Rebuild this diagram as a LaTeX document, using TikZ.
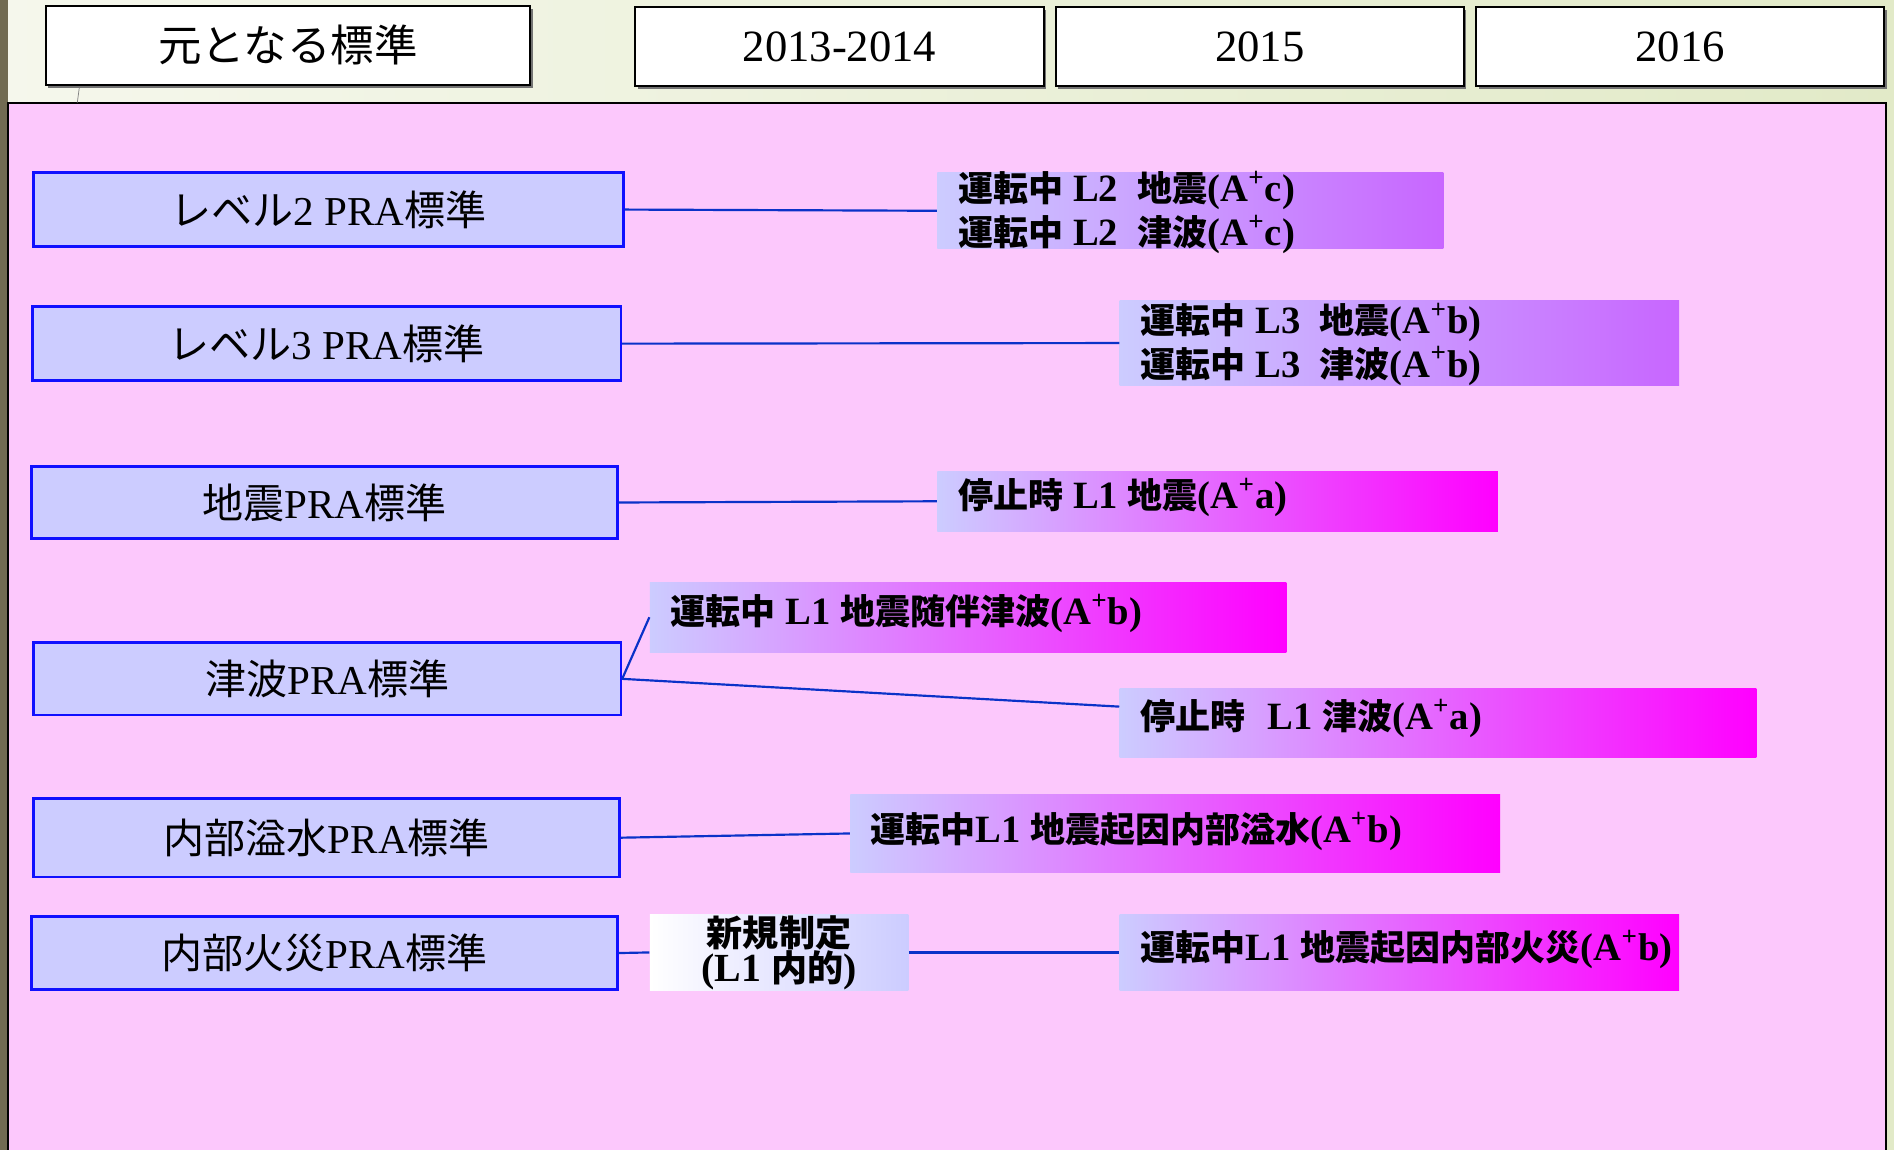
\documentclass[tikz,border=0pt]{standalone}
\usepackage{fontspec}
\setmainfont{Liberation Serif}
\newfontfamily\jpA{Noto Sans CJK JP}
\newfontfamily\jpB{Noto Sans CJK JP}[Scale=0.906]
\let\jpfam\jpA
\newcommand\J[1]{{\jpfam #1}}
\newcommand\Ap{A\textsuperscript{+}}
\usetikzlibrary{fit}
\definecolor{pinkbg}{RGB}{252,200,252}
\definecolor{lav}{RGB}{204,204,255}
\definecolor{purp}{RGB}{200,102,255}
\definecolor{mag}{RGB}{255,0,255}
\definecolor{bord}{RGB}{16,16,255}
\definecolor{conn}{RGB}{10,50,200}
\definecolor{strip}{RGB}{113,107,82}
\definecolor{bgL}{RGB}{245,247,236}
\definecolor{bgR}{RGB}{226,234,200}
\begin{document}
\begin{tikzpicture}[x=0.5pt,y=-0.5pt,
  std/.style={fill=lav,draw=bord,line width=1.1pt,inner sep=0pt},
  stdtxt/.style={inner sep=0pt,font=\fontsize{17}{18}\selectfont},
  hdr/.style={fill=white,draw=black,line width=0.8pt,inner sep=0pt},
  yeartxt/.style={inner sep=0pt,font=\fontsize{18.5}{20}\selectfont},
  purbox/.style={inner sep=0pt,left color=lav,right color=purp},
  magbox/.style={inner sep=0pt,left color=lav,right color=mag},
  newbox/.style={inner sep=0pt,left color=white,right color=lav},
  lbl/.style={anchor=west,align=left,inner sep=0pt,font=\let\jpfam\jpB\bfseries\fontsize{16}{18}\selectfont},
  link/.style={draw=conn,line width=0.9pt}
]
\useasboundingbox[left color=bgL,right color=bgR] (0,0) rectangle (1568,952);
\fill[strip] (0,0) rectangle (7,952);
\draw[fill=pinkbg,line width=0.8pt] (7,85) rectangle (1561,960);
\draw[gray,line width=0.3pt] (66,70) -- (64,85);
% header
\foreach \a/\b/\c/\d in {38/5/439/70,526/6/864/71,874/6/1212/71,1222/6/1560/71}
  \fill[black!55] (\a+2,\b+2.5) rectangle (\c+2,\d+2.5);
\node[hdr,fit={(38,5) (439,70)}] (h0) {};
\node[hdr,fit={(526,6) (864,71)}] (h1) {};
\node[hdr,fit={(874,6) (1212,71)}] (h2) {};
\node[hdr,fit={(1222,6) (1560,71)}] (h3) {};
\node[inner sep=0pt,font=\jpA\fontsize{18}{20}\selectfont] (h0t) at (h0.center) {元となる標準};
\node[yeartxt] (h1t) at (h1.center) {2013-2014};
\node[yeartxt] (h2t) at (h2.center) {2015};
\node[yeartxt] (h3t) at (h3.center) {2016};
% standards
\node[std,fit={(28,143) (516,204)}] (s1) {};
\node[std,fit={(27,254) (514,315)}] (s2) {};
\node[std,fit={(26,386) (511,446)}] (s3) {};
\node[std,fit={(28,532) (514,592)}] (s4) {};
\node[std,fit={(28,661) (513,726)}] (s5) {};
\node[std,fit={(26,759) (511,819)}] (s6) {};
\node[stdtxt] (s1t) at (s1.center) {\J{レベル}2 PRA\J{標準}};
\node[stdtxt] (s2t) at (s2.center) {\J{レベル}3 PRA\J{標準}};
\node[stdtxt] (s3t) at (s3.center) {\J{地震}PRA\J{標準}};
\node[stdtxt] (s4t) at (s4.center) {\J{津波}PRA\J{標準}};
\node[stdtxt] (s5t) at (s5.center) {\J{内部溢水}PRA\J{標準}};
\node[stdtxt] (s6t) at (s6.center) {\J{内部火災}PRA\J{標準}};
% results
\node[purbox,fit={(776,143) (1195,206)}] (r1) {};
\node[purbox,fit={(927,249) (1390,319)}] (r2) {};
\node[magbox,fit={(776,390) (1240,440)}] (r3) {};
\node[magbox,fit={(538,482) (1065,540)}] (r4) {};
\node[magbox,fit={(927,570) (1454,627)}] (r5) {};
\node[magbox,fit={(704,658) (1242,722)}] (r6) {};
\node[newbox,fit={(538,757) (752,820)}] (n7) {};
\node[magbox,fit={(927,757) (1390,820)}] (r8) {};
\node[lbl] (t1) at (793,176) {\J{運転中}\hspace{4pt}L2\hspace{8pt}\J{地震}(\Ap c)\\\J{運転中}\hspace{4pt}L2\hspace{8pt}\J{津波}(\Ap c)};
\node[lbl] (t2) at (944,285) {\J{運転中}\hspace{4pt}L3\hspace{8pt}\J{地震}(\Ap b)\\\J{運転中}\hspace{4pt}L3\hspace{8pt}\J{津波}(\Ap b)};
\node[lbl] (t3) at (793,412) {\J{停止時} L1 \J{地震}(\Ap a)};
\node[lbl] (t4) at (555,508) {\J{運転中} L1 \J{地震随伴津波}(\Ap b)};
\node[lbl] (t5) at (944,595) {\J{停止時}\hspace{9pt}L1 \J{津波}(\Ap a)};
\node[lbl] (t6) at (720,688) {\J{運転中}L1 \J{地震起因内部溢水}(\Ap b)};
\node[lbl,anchor=center,align=center,font=\let\jpfam\jpB\bfseries\fontsize{16.5}{14.5}\selectfont] (t7) at (n7.center) {\J{新規制定}\\(L1 \J{内的})};
\node[lbl] (t8) at (944,786) {\J{運転中}L1 \J{地震起因内部火災}(\Ap b)};
% links
\draw[link] (s1.east) -- (r1.west);
\draw[link] (s2.east) -- (r2.west);
\draw[link] (s3.east) -- (r3.west);
\draw[link] (s4.east) -- (r4.west);
\draw[link] (s4.east) -- ([yshift=6.75pt]r5.west);
\draw[link] (s5.east) -- (r6.west);
\draw[link] (s6.east) -- (n7.west);
\draw[link] (n7.east) -- (r8.west);
\end{tikzpicture}
\end{document}
